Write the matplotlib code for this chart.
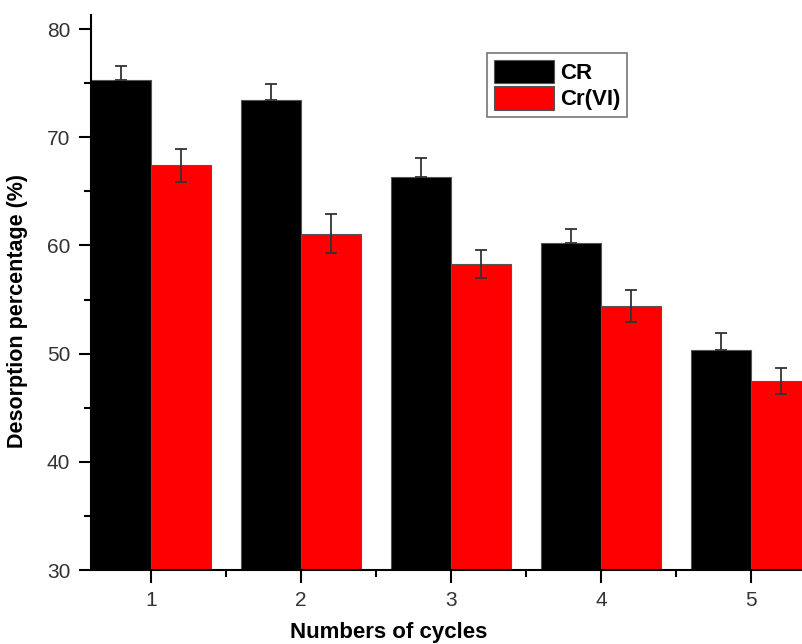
import numpy as np
import matplotlib.pyplot as plt
from matplotlib.ticker import MultipleLocator

plt.rcParams['font.family'] = ['Liberation Sans', 'DejaVu Sans']

# desorption over repeated cycles
cycles = [1, 2, 3, 4, 5]
cr = [75.3, 73.4, 66.3, 60.2, 50.3]
cr_err = [1.3, 1.5, 1.8, 1.3, 1.6]
cr6 = [67.4, 61.1, 58.3, 54.4, 47.5]
cr6_err = [1.5, 1.8, 1.3, 1.5, 1.2]

fig = plt.figure(figsize=(8.02, 6.44), dpi=100)
ax = fig.add_axes([0.1135, 0.1149, 0.935, 0.8618])

x = np.array(cycles)
w = 0.4
ekw = dict(ecolor='#333333', elinewidth=1.3, capsize=4, capthick=1.3)
ax.bar(x - w / 2, cr, w, color='black', edgecolor='#555555', linewidth=0.8,
       yerr=[[0] * 5, cr_err], error_kw=ekw, label='CR')
ax.bar(x + w / 2, cr6, w, color='#ff0000', edgecolor='#555555', linewidth=0.8,
       yerr=cr6_err, error_kw=ekw, label='Cr(VI)')

ax.set_xlim(0.6, 5.6)
ax.set_ylim(30, 81.3)
ax.set_xticks(cycles)
ax.yaxis.set_major_locator(MultipleLocator(10))
ax.yaxis.set_minor_locator(MultipleLocator(5))
ax.xaxis.set_minor_locator(MultipleLocator(0.5))

for s in ['top', 'right']:
    ax.spines[s].set_visible(False)
for s in ['left', 'bottom']:
    ax.spines[s].set_linewidth(1.5)

ax.tick_params(which='major', direction='out', length=9, width=1.5,
               labelsize=15, labelcolor='#333333', pad=6)
ax.tick_params(which='minor', direction='out', length=5, width=1.5)

ax.set_xlabel('Numbers of cycles', fontsize=16, fontweight='bold')
ax.set_ylabel('Desorption percentage (%)', fontsize=15.5, fontweight='bold')
ax.xaxis.set_label_coords((389 - 91) / 750, -0.094)
ax.yaxis.set_label_coords(-0.084, (570 - 311) / 555)

leg = ax.legend(loc='upper left', bbox_to_anchor=(487 / 802, 1 - 53 / 644),
                bbox_transform=fig.transFigure,
                prop={'weight': 'bold', 'size': 16}, frameon=True, fancybox=False,
                handlelength=2.7, handleheight=1.25, handletextpad=0.3,
                labelspacing=0.1, borderpad=0.3, borderaxespad=0)
leg.get_frame().set_edgecolor('#555555')
leg.get_frame().set_linewidth(1.2)

fig.savefig('out.png', dpi=100)
